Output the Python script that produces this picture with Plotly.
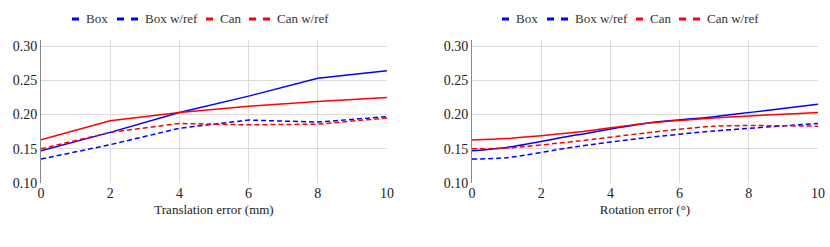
import plotly.graph_objects as go

# Left panel: translation error
trans_x = [0, 2, 4, 6, 8, 10]
trans_box = [0.147, 0.174, 0.203, 0.227, 0.253, 0.264]
trans_box_ref = [0.135, 0.156, 0.180, 0.192, 0.189, 0.197]
trans_can = [0.163, 0.191, 0.203, 0.212, 0.219, 0.225]
trans_can_ref = [0.150, 0.174, 0.187, 0.185, 0.186, 0.195]

# Right panel: rotation error
rot_x = [0, 1, 3, 5, 7, 10]
rot_box = [0.147, 0.152, 0.170, 0.187, 0.197, 0.215]
rot_box_ref = [0.135, 0.137, 0.153, 0.166, 0.176, 0.187]
rot_can = [0.163, 0.165, 0.174, 0.187, 0.195, 0.203]
rot_can_ref = [0.150, 0.151, 0.161, 0.173, 0.183, 0.183]

series_names = ["Box", "Box w/ref", "Can", "Can w/ref"]
colors = ["#0000ff", "#0000ff", "#ff0000", "#ff0000"]
dashed = [False, True, False, True]

yticks = [0.10, 0.15, 0.20, 0.25, 0.30]
xticks = [0, 2, 4, 6, 8, 10]

FONT = "Liberation Serif, Tinos, Times New Roman, serif"
W, H = 830, 247

fig = go.Figure()
left = [trans_box, trans_box_ref, trans_can, trans_can_ref]
right = [rot_box, rot_box_ref, rot_can, rot_can_ref]
for name, ys, c, d in zip(series_names, left, colors, dashed):
    fig.add_trace(go.Scatter(x=trans_x, y=ys, mode="lines", name=name, showlegend=False,
                             line=dict(color=c, width=1.5, dash="5px,3px" if d else "solid"),
                             xaxis="x", yaxis="y"))
for name, ys, c, d in zip(series_names, right, colors, dashed):
    fig.add_trace(go.Scatter(x=rot_x, y=ys, mode="lines", name=name, showlegend=False,
                             line=dict(color=c, width=1.5, dash="5px,3px" if d else "solid",
                                       shape="spline", smoothing=0.8),
                             xaxis="x2", yaxis="y2"))

# Custom compact legends (one per panel)
shapes = []
annotations = []
item_offsets = [0, 45, 134, 177]
legend_starts = [72, 502]
legend_y = 1 - 19 / H
for start in legend_starts:
    for off, name, c, d in zip(item_offsets, series_names, colors, dashed):
        x0 = start + off
        segs = [(x0, x0 + 7), (x0 + 14, x0 + 21)] if d else [(x0, x0 + 7)]
        for a, b in segs:
            shapes.append(dict(type="line", xref="paper", yref="paper",
                               x0=a / W, x1=b / W, y0=legend_y, y1=legend_y,
                               line=dict(color=c, width=3)))
        tx = x0 + (26 if d else 12)
        annotations.append(dict(text=name, xref="paper", yref="paper", x=tx / W, y=legend_y,
                                xanchor="left", yanchor="middle", showarrow=False,
                                font=dict(family=FONT, size=13, color="#333333")))

axis_common = dict(showgrid=True, gridcolor="#dcdcdc", gridwidth=1, zeroline=False,
                   tickfont=dict(family=FONT, size=14, color="#222222"), ticks="")
ydom = [64 / H, 207 / H]
yrange = [0.10, 0.309]
fig.update_layout(
    width=W, height=H,
    margin=dict(l=0, r=0, t=0, b=0, autoexpand=False),
    paper_bgcolor="white", plot_bgcolor="white",
    font=dict(family=FONT, size=13, color="#222222"),
    showlegend=False,
    hovermode=False,
    shapes=shapes,
    annotations=annotations,
    xaxis=dict(domain=[41 / W, 387 / W], range=[0, 10], tickvals=xticks,
               title=dict(text="Translation error (mm)", font=dict(family=FONT, size=13, color="#222222"), standoff=4),
               showline=False, anchor="y", **axis_common),
    yaxis=dict(domain=ydom, range=yrange, tickvals=yticks, tickformat=".2f",
               showline=True, linecolor="#888888", linewidth=1, anchor="x", **axis_common),
    xaxis2=dict(domain=[472 / W, 818 / W], range=[0, 10], tickvals=xticks,
                title=dict(text="Rotation error (°)", font=dict(family=FONT, size=13, color="#222222"), standoff=4),
                showline=False, anchor="y2", **axis_common),
    yaxis2=dict(domain=ydom, range=yrange, tickvals=yticks, tickformat=".2f",
                showline=True, linecolor="#888888", linewidth=1, anchor="x2", **axis_common),
)

fig.write_html("out.html", config={"displayModeBar": False},
               post_script="document.body.style.margin='0';")
